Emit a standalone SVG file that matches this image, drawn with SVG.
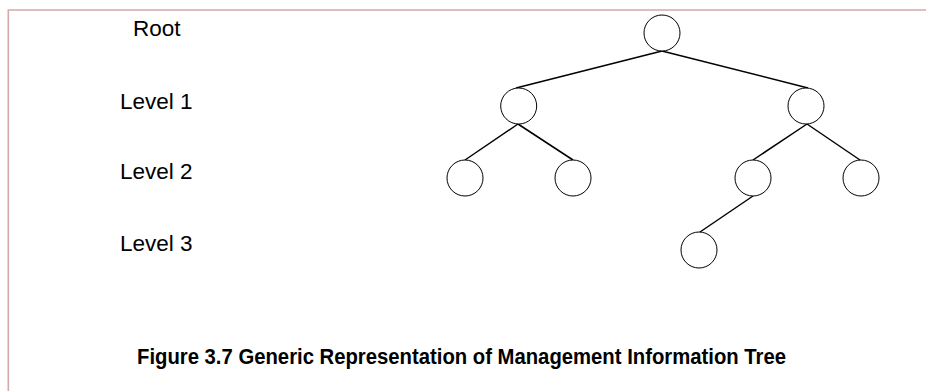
<svg xmlns="http://www.w3.org/2000/svg" width="926" height="391" viewBox="0 0 926 391">
  <style>
    .frame { fill: none; stroke: #d4a9a9; stroke-width: 1.6; }
    .node { fill: #ffffff; stroke: #000000; stroke-width: 1; }
    .edge { stroke: #000000; stroke-width: 1.5; fill: none; }
    .label { font-family: "Liberation Sans", Arial, sans-serif; font-size: 22.5px; fill: #000000; }
    .caption { font-family: "Liberation Sans", Arial, sans-serif; font-size: 22px; font-weight: bold; fill: #000000; }
  </style>
  <rect width="926" height="391" fill="#ffffff"/>
  <!-- page frame: top and left edges -->
  <path class="frame" d="M8.3,391 V10 H926"/>

  <!-- level labels -->
  <g id="labels">
    <text class="label" x="133" y="36">Root</text>
    <text class="label" x="120" y="109">Level 1</text>
    <text class="label" x="120" y="179">Level 2</text>
    <text class="label" x="120" y="251">Level 3</text>
  </g>

  <!-- connectors -->
  <g id="connectors">
    <line class="edge" x1="662" y1="51" x2="516" y2="88"/>
    <line class="edge" x1="662" y1="51" x2="808" y2="88"/>
    <line class="edge" x1="518" y1="124" x2="465" y2="160"/>
    <line class="edge" x1="518" y1="124" x2="573" y2="160"/>
    <line class="edge" x1="807" y1="124" x2="753" y2="160"/>
    <line class="edge" x1="807" y1="124" x2="860" y2="160"/>
    <line class="edge" x1="753" y1="196" x2="700" y2="232"/>
  </g>

  <!-- tree nodes -->
  <g id="root"><circle class="node" cx="662" cy="33" r="18"/></g>
  <g id="l1-left"><circle class="node" cx="518.7" cy="106" r="18"/></g>
  <g id="l1-right"><circle class="node" cx="806" cy="106" r="18"/></g>
  <g id="l2-a"><circle class="node" cx="465" cy="178" r="18"/></g>
  <g id="l2-b"><circle class="node" cx="573" cy="178" r="18"/></g>
  <g id="l2-c"><circle class="node" cx="753" cy="178" r="18"/></g>
  <g id="l2-d"><circle class="node" cx="861" cy="178" r="18"/></g>
  <g id="l3-a"><circle class="node" cx="699" cy="250" r="18"/></g>

  <text class="caption" x="137" y="364" textLength="649" lengthAdjust="spacingAndGlyphs">Figure 3.7 Generic Representation of Management Information Tree</text>
</svg>
